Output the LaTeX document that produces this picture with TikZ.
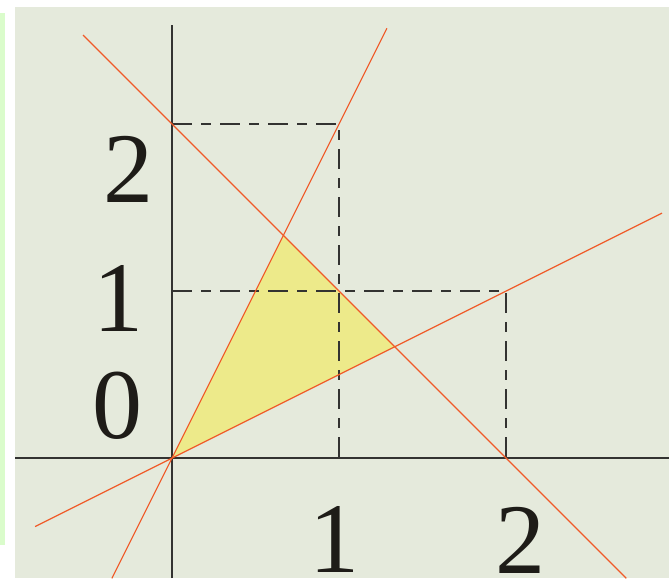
\documentclass[tikz,border=0pt]{standalone}
\usepackage{fontspec}
\setmainfont{Liberation Serif}
\usetikzlibrary{positioning}
\definecolor{panelbg}{HTML}{E5EADC}
\definecolor{stripgreen}{HTML}{DAFCCB}
\definecolor{regionyellow}{HTML}{EDEA8A}
\definecolor{linered}{HTML}{F05A28}
\definecolor{axisgray}{HTML}{333331}
\definecolor{labelblack}{HTML}{1E1C18}
\tikzset{
  axisline/.style={draw=axisgray, line width=0.7pt},
  graphline/.style={draw=linered, line width=0.6pt},
  guide/.style={draw=axisgray, line width=0.7pt,
    dash pattern=on 10pt off 4.5pt on 5pt off 4.5pt},
  ticklabel/.style={inner sep=0pt, text=labelblack,
    font=\fontsize{50}{50}\selectfont}
}

\begin{document}
\begin{tikzpicture}[x=83.5pt, y=83.5pt]
    \useasboundingbox (-1.030,-0.719) rectangle (2.976,2.743);
    \fill[panelbg] (-0.940,-0.719) rectangle (2.976,2.701);
    \fill[stripgreen] (-1.030,-0.521) rectangle (-1.000,2.665);
    % feasible region
    \coordinate (O) at (0,0);
    \coordinate (top) at (2/3,4/3);
    \coordinate (right) at (4/3,2/3);
    \fill[regionyellow] (O) -- (top) -- (right) -- cycle;
    % axes
    \coordinate (xstart) at (-0.940,0);
    \coordinate (xend) at (2.976,0);
    \coordinate (ystart) at (0,-0.719);
    \coordinate (yend) at (0,2.593);
    \draw[axisline] (xstart) -- (xend);
    \draw[axisline] (ystart) -- (yend);
    % guides
    \coordinate (y1) at (0,1);
    \coordinate (y2) at (0,2);
    \coordinate (x1) at (1,0);
    \coordinate (x2) at (2,0);
    \coordinate (p12) at (1,2);
    \coordinate (p21) at (2,1);
    \draw[guide] (y2) -- (p12) -- (x1);
    \draw[guide] (y1) -- (p21) -- (x2);
    % lines
    \coordinate (sumA) at (-0.533,2.533);
    \coordinate (sumB) at (2.72,-0.72);
    \coordinate (steepA) at (-0.36,-0.72);
    \coordinate (steepB) at (1.287,2.574);
    \coordinate (flatA) at (-0.82,-0.41);
    \coordinate (flatB) at (2.934,1.467);
    \draw[graphline] (sumA) -- (sumB);
    \draw[graphline] (steepA) -- (steepB);
    \draw[graphline] (flatA) -- (flatB);
    % labels
    \node[ticklabel] (lab y2) at (-0.263,1.731) {2};
    \node[ticklabel] (lab y1) at (-0.323,0.958) {1};
    \node[ticklabel] (lab y0) at (-0.326,0.311) {0};
    \node[ticklabel] (lab x1) at (0.970,-0.490) {1};
    \node[ticklabel] (lab x2) at (2.084,-0.490) {2};
  \end{tikzpicture}
\end{document}
